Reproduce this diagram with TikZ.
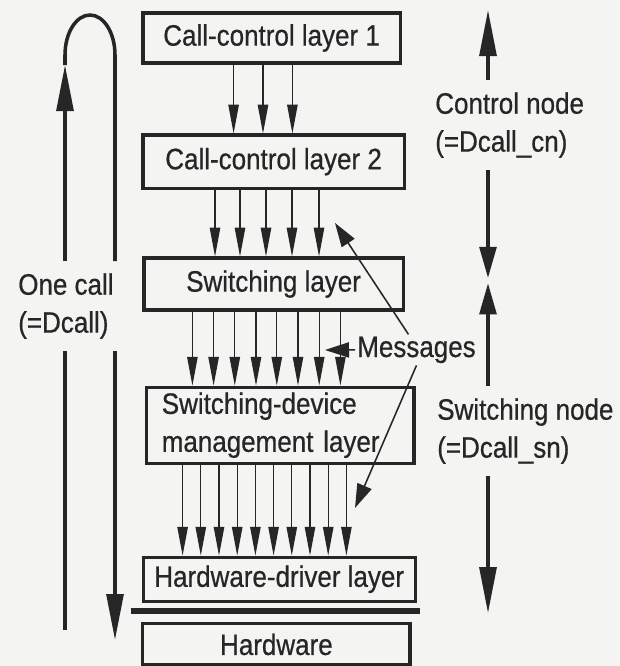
\documentclass[tikz,border=0pt]{standalone}
\usepackage{fontspec}
\setmainfont{Liberation Sans}[FakeStretch=0.88, FakeBold=0.6]
\usetikzlibrary{arrows.meta,calc}
\definecolor{ink}{HTML}{262626}
\definecolor{paper}{HTML}{F4F4F2}

\begin{document}
\begin{tikzpicture}[
    font=\fontsize{21}{27}\selectfont,
    color=ink,
    layerbox/.style={draw, line width=2.2pt, inner sep=0pt, align=center},
    sidelabel/.style={align=left, inner sep=0.3cm, anchor=north west},
    flow/.style={-{Triangle[length=0.72cm, width=0.26cm]}, line width=0.9pt},
    msgarrow/.style={-{Triangle[length=0.6cm, width=0.38cm]}, line width=1.1pt},
    bigline/.style={line width=2.5pt},
    bigarrow/.style={bigline, -{Triangle[length=1.15cm, width=0.42cm]}},
    shortarrow/.style={bigline, -{Triangle[length=0.78cm, width=0.42cm]}},
    sepline/.style={line width=4.3pt}
]

% Paper
\fill[paper] (0,0) rectangle (15.5,-16.65);
\useasboundingbox (0,0) rectangle (15.5,-16.65);

% Layers
\node[layerbox, minimum width=6.43cm, minimum height=1.25cm] (cc1) at (6.79,-0.95) {Call-control layer 1};
\node[layerbox, minimum width=6.53cm, minimum height=1.33cm] (cc2) at (6.84,-4.04) {Call-control layer 2};
\node[layerbox, minimum width=6.48cm, minimum height=1.3cm] (sw) at (6.84,-7.1) {Switching layer};
\node[layerbox, minimum width=6.68cm, minimum height=1.9cm, text width=5.93cm,
    inner xsep=0.375cm, align=left] (sdm) at (7.01,-10.63) {Switching-device\\management layer};
\node[layerbox, minimum width=6.8cm, minimum height=1.1cm] (hwd) at (6.98,-14.48) {Hardware-driver layer};
\node[layerbox, minimum width=6.68cm, minimum height=1.03cm] (hw) at (6.91,-16.11) {Hardware};

% Border between software and hardware
\draw[sepline] ($(hwd.south west)+(-0.275,-0.2)$) -- ($(hwd.south east)+(0.075,-0.2)$);

% Messages between layers
\foreach \x in {5.84,6.575,7.31}
  \draw[flow] (\x,0 |- cc1.south) -- (\x,0 |- cc2.north);
\foreach \x in {5.375,6.0,6.65,7.3,7.975}
  \draw[flow] (\x,0 |- cc2.south) -- (\x,0 |- sw.north);
\foreach \x in {4.81,5.34,5.87,6.40,6.92,7.45,7.98,8.51}
  \draw[flow] (\x,0 |- sw.south) -- (\x,0 |- sdm.north);
\foreach \x in {4.565,5.02,5.475,5.93,6.385,6.84,7.295,7.75,8.205,8.66}
  \draw[flow] (\x,0 |- sdm.south) -- (\x,0 |- hwd.north);

% Labels
\node[sidelabel] (onecall) at (0.15,-6.525) {One call\\(=Dcall)};
\node[sidelabel] (cnode) at (10.575,-2.0) {Control node\\(=Dcall\_cn)};
\node[sidelabel] (snode) at (10.625,-9.65) {Switching node\\(=Dcall\_sn)};
\node[inner sep=0.05cm, anchor=base west] (msg) at (8.875,-8.925) {Messages};

% Pointers from the Messages label
\coordinate (msgtipA) at (8.375,-5.575);
\coordinate (msgtipB) at (8.125,-8.75);
\coordinate (msgtipC) at (8.875,-12.7);
\draw[msgarrow] ([xshift=-0.2cm]msg.north) -- (msgtipA);
\draw[msgarrow] (msg.west) -- (msgtipB);
\draw[msgarrow] (msg.south) -- (msgtipC);

% One call loop
\coordinate (loopLtip) at (1.625,-1.625);
\coordinate (loopLbot) at (1.625,-15.75);
\coordinate (loopRtip) at (2.875,-16.0);
\draw[bigarrow] (onecall.north -| loopLtip) -- (loopLtip);
\draw[bigline] (loopLtip) -- ++(0,0.25)
  arc[start angle=180, end angle=0, x radius=0.625cm, y radius=1cm]
  -- (onecall.north -| loopRtip);
\draw[bigline] (onecall.south -| loopLbot) -- (loopLbot);
\draw[bigarrow] (onecall.south -| loopRtip) -- (loopRtip);

% Node extents
\coordinate (cntop) at (12.2,-0.25);
\coordinate (cnbot) at (12.2,-6.95);
\coordinate (sntop) at (12.2,-7.08);
\coordinate (snbot) at (12.2,-15.33);
\draw[bigarrow] (cnode.north -| cntop) -- (cntop);
\draw[shortarrow] (cnode.south -| cnbot) -- (cnbot);
\draw[shortarrow] (snode.north -| sntop) -- (sntop);
\draw[bigarrow] (snode.south -| snbot) -- (snbot);

\end{tikzpicture}
\end{document}
